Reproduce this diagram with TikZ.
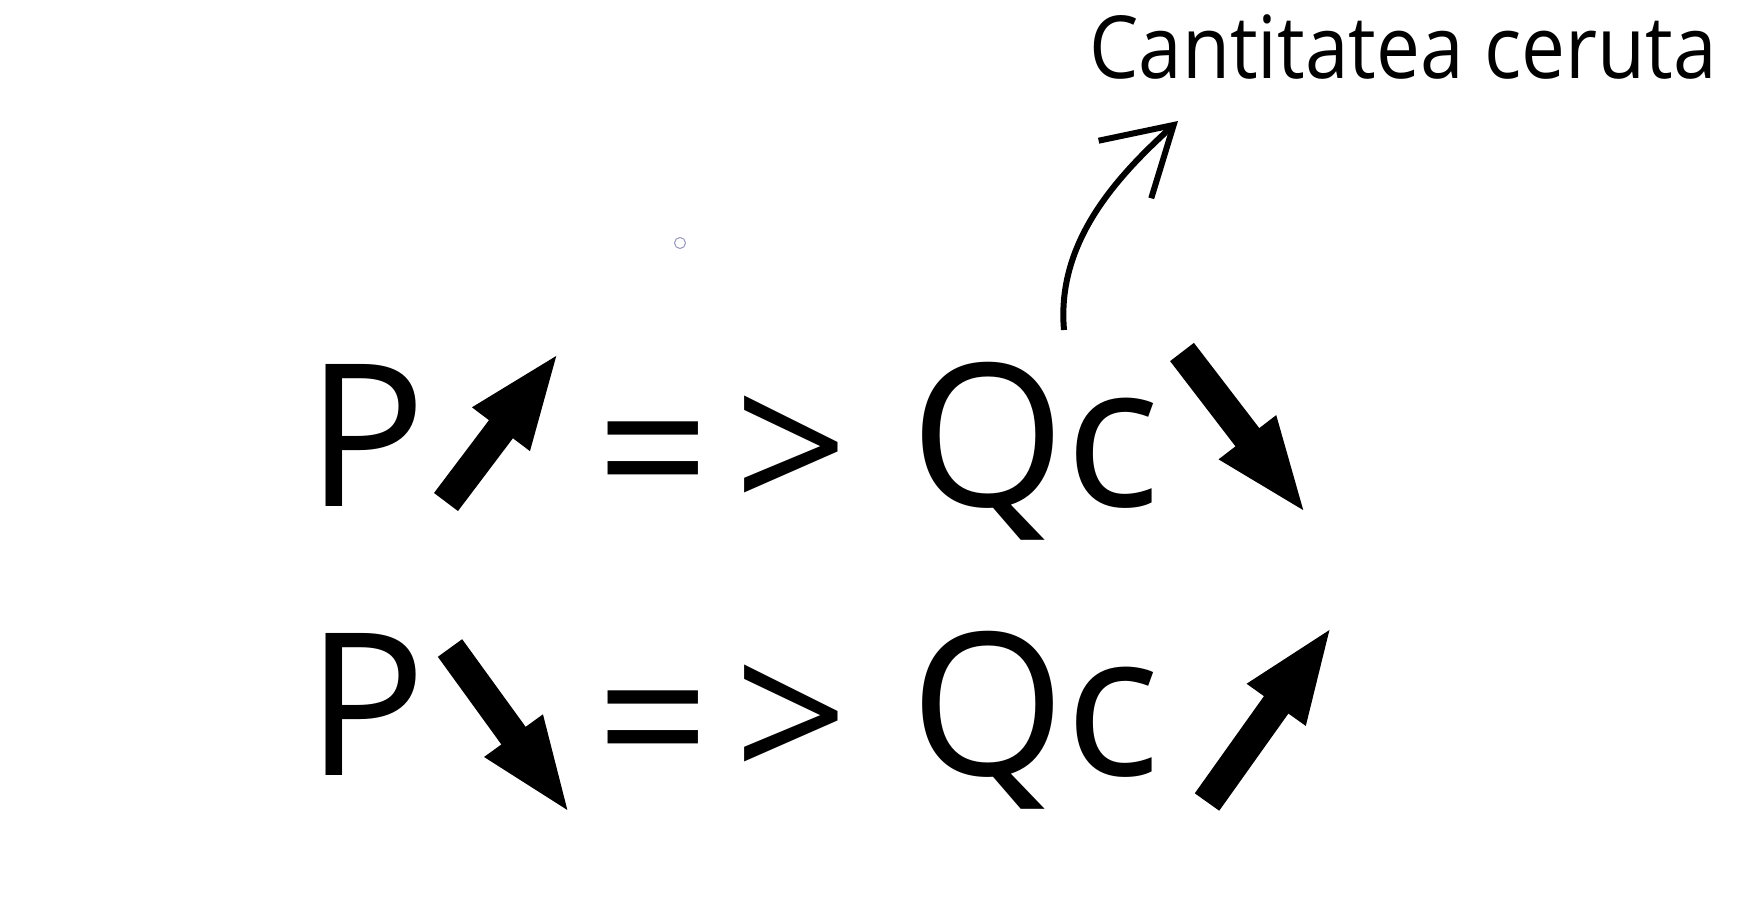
\documentclass[tikz,border=0pt]{standalone}
\usepackage{fontspec}
\setmainfont{Open Sans}
\usetikzlibrary{arrows.meta}
\tikzset{
  big/.style={anchor=base, inner sep=0pt, font=\fontsize{199}{220}\selectfont},
  label/.style={anchor=base, inner sep=0pt, xscale=0.9, font=\fontsize{87}{100}\selectfont},
  thick arrow/.style={line width=30pt, -{Triangle[length=98pt,width=64pt]}},
  curve arrow/.style={line width=6pt, -{Straight Barb[length=66pt,width=78pt,line width=6pt]}}
}
\begin{document}
\begin{tikzpicture}[x=1pt,y=-1pt]
\useasboundingbox (0,0) rectangle (1756,900);
% row 1
\node[big] (p1) at (366,506) {P};
\node[big] (eq1) at (653,518) {=};
\node[big] (gt1) at (791,516) {>};
\node[big] (qc1) at (1035,506) {Qc};
% row 2
\node[big] (p2) at (366,775) {P};
\node[big] (eq2) at (653,787) {=};
\node[big] (gt2) at (791,785) {>};
\node[big] (qc2) at (1035,775) {Qc};
% label
\node[label] (lab) at (1403,78) {Cantitatea ceruta};
% thick arrows
\coordinate (a1s) at (446,502); \coordinate (a1e) at (560,351);
\coordinate (a2s) at (1182,352); \coordinate (a2e) at (1307,515);
\coordinate (a3s) at (450,648); \coordinate (a3e) at (571,815);
\coordinate (a4s) at (1207,802); \coordinate (a4e) at (1333,625);
\draw[thick arrow] (a1s) -- (a1e);
\draw[thick arrow] (a2s) -- (a2e);
\draw[thick arrow] (a3s) -- (a3e);
\draw[thick arrow] (a4s) -- (a4e);
% curved arrow
\coordinate (cs) at (1064,330);
\coordinate (ce) at (1178,121);
\draw[curve arrow] (cs) .. controls (1056,240) and (1120,174) .. (ce);
% stray mark
\draw[color={rgb,255:red,150;green,150;blue,190}, line width=1pt] (680,243) circle (5.5pt);
\end{tikzpicture}
\end{document}
